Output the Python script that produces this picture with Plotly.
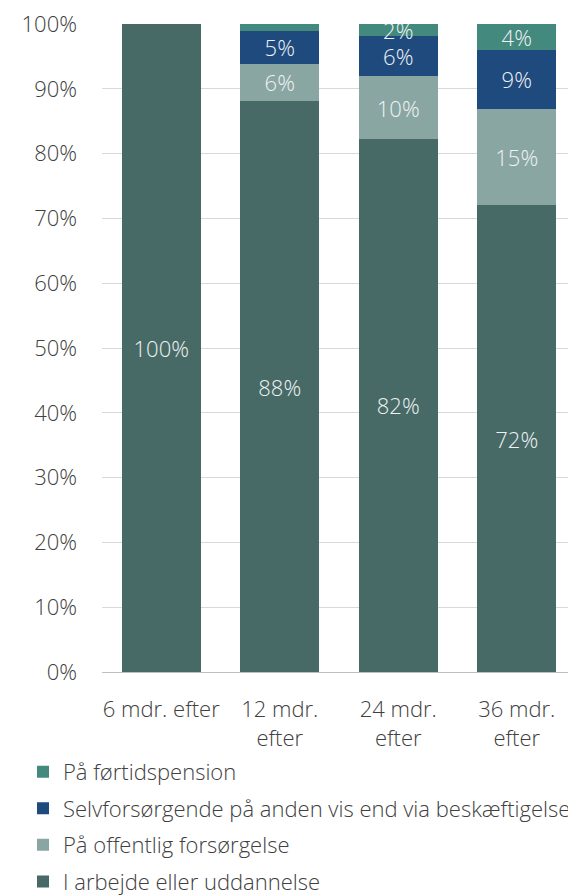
import plotly.graph_objects as go

categories = ["6 mdr. efter", "12 mdr.<br>efter", "24 mdr.<br>efter", "36 mdr.<br>efter"]
series_names = ["I arbejde eller uddannelse", "På offentlig forsørgelse",
                "Selvforsørgende på anden vis end via beskæftigelse", "På førtidspension"]
arbejde = [100, 88.1, 82.3, 72.0]
offentlig = [0, 5.8, 9.6, 14.9]
selv = [0, 5.0, 6.2, 9.1]
fortid = [0, 1.1, 1.9, 4.0]
labels_arbejde = ["100%", "88%", "82%", "72%"]
labels_offentlig = ["", "6%", "10%", "15%"]
labels_selv = ["", "5%", "6%", "9%"]
labels_fortid = ["", "", "2%", "4%"]

colors = ["#476a66", "#8aa6a3", "#1f4a7e", "#43897e"]
values = [arbejde, offentlig, selv, fortid]
texts = [labels_arbejde, labels_offentlig, labels_selv, labels_fortid]

FONT = "Open Sans"
FS = 22
fig = go.Figure()
for i, (name, vals, txt, col) in enumerate(zip(series_names, values, texts, colors)):
    fig.add_trace(go.Bar(
        x=categories, y=vals, name=name, marker_color=col,
        marker_line_width=0, legendgroup=f"g{i}", legendrank=1000 - i,
        text=txt, textposition="inside", insidetextanchor="middle",
        constraintext="none",
        textfont=dict(color="#eef2f3", size=FS, family=FONT, weight=300),
        hoverinfo="skip", cliponaxis=True,
    ))

fig.update_layout(
    barmode="stack", bargap=0.33,
    width=568, height=900,
    margin=dict(l=94, r=0, t=16, b=236),
    paper_bgcolor="white", plot_bgcolor="white",
    font=dict(family=FONT, size=FS, color="#404040", weight=300),
    showlegend=True,
    legend=dict(
        orientation="v", tracegroupgap=5,
        x=-0.165, xanchor="left", y=-0.1217, yanchor="top",
        font=dict(size=FS, family=FONT, color="#404040", weight=300),
        itemwidth=30, bgcolor="rgba(0,0,0,0)",
    ),
    xaxis=dict(
        showline=True, linecolor="#bfbfbf", linewidth=1,
        ticks="", tickfont=dict(size=FS, family=FONT, color="#404040", weight=300),
        showgrid=False, ticklabelstandoff=18,
    ),
    yaxis=dict(
        range=[0, 100], tickvals=list(range(0, 101, 10)),
        ticktext=[f"{v}%" for v in range(0, 101, 10)],
        showgrid=True, gridcolor="#d9d9d9", gridwidth=1,
        zeroline=False, showline=False, ticks="",
        tickfont=dict(size=FS, family=FONT, color="#404040", weight=300),
        ticklabelstandoff=24, ticklabeloverflow="allow",
    ),
)
fig.write_html("out.html")
